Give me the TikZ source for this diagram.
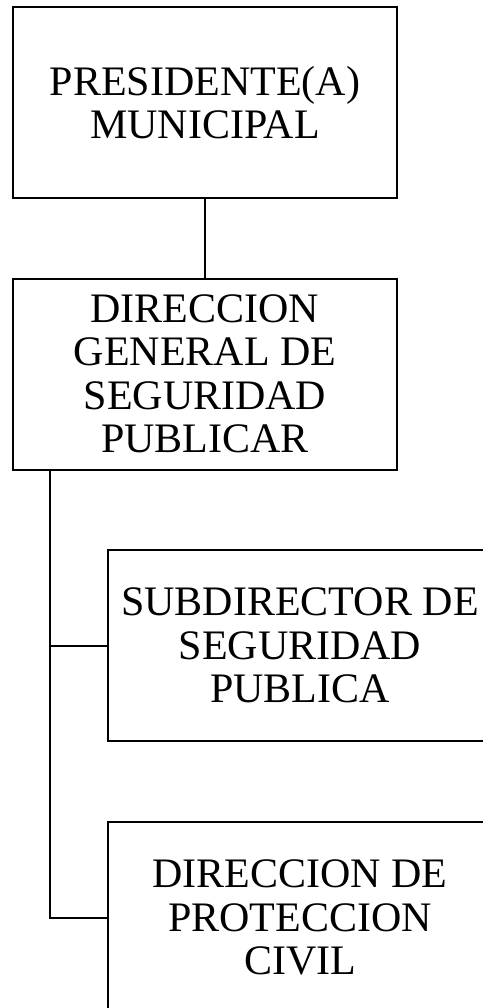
\documentclass[tikz,border=0pt]{standalone}
\usepackage{fontspec}
\setmainfont{Liberation Serif}
\begin{document}
\begin{tikzpicture}[x=1pt,y=-1pt,
  box/.style={draw=black, line width=2pt, minimum width=384pt, minimum height=191pt,
    align=center, inner sep=0pt, font=\fontsize{42}{43.5}\selectfont},
  conn/.style={line width=2pt}]
\useasboundingbox (0,0) rectangle (482,1008);
\node[box] (pres) at (205,102.5) {PRESIDENTE(A)\\MUNICIPAL};
\node[box] (dgsp) at (205,374) {DIRECCION\\GENERAL DE\\SEGURIDAD\\PUBLICAR};
\node[box] (sub) at (300,645.5) {SUBDIRECTOR DE\\SEGURIDAD\\PUBLICA};
\node[box] (dpc) at (300,917.5) {DIRECCION DE\\PROTECCION\\CIVIL};
\draw[conn] (pres) -- (dgsp);
\draw[conn] ([xshift=38pt]dgsp.south west) |- (sub.west);
\draw[conn] ([xshift=38pt]dgsp.south west) |- (dpc.west);
\end{tikzpicture}
\end{document}
